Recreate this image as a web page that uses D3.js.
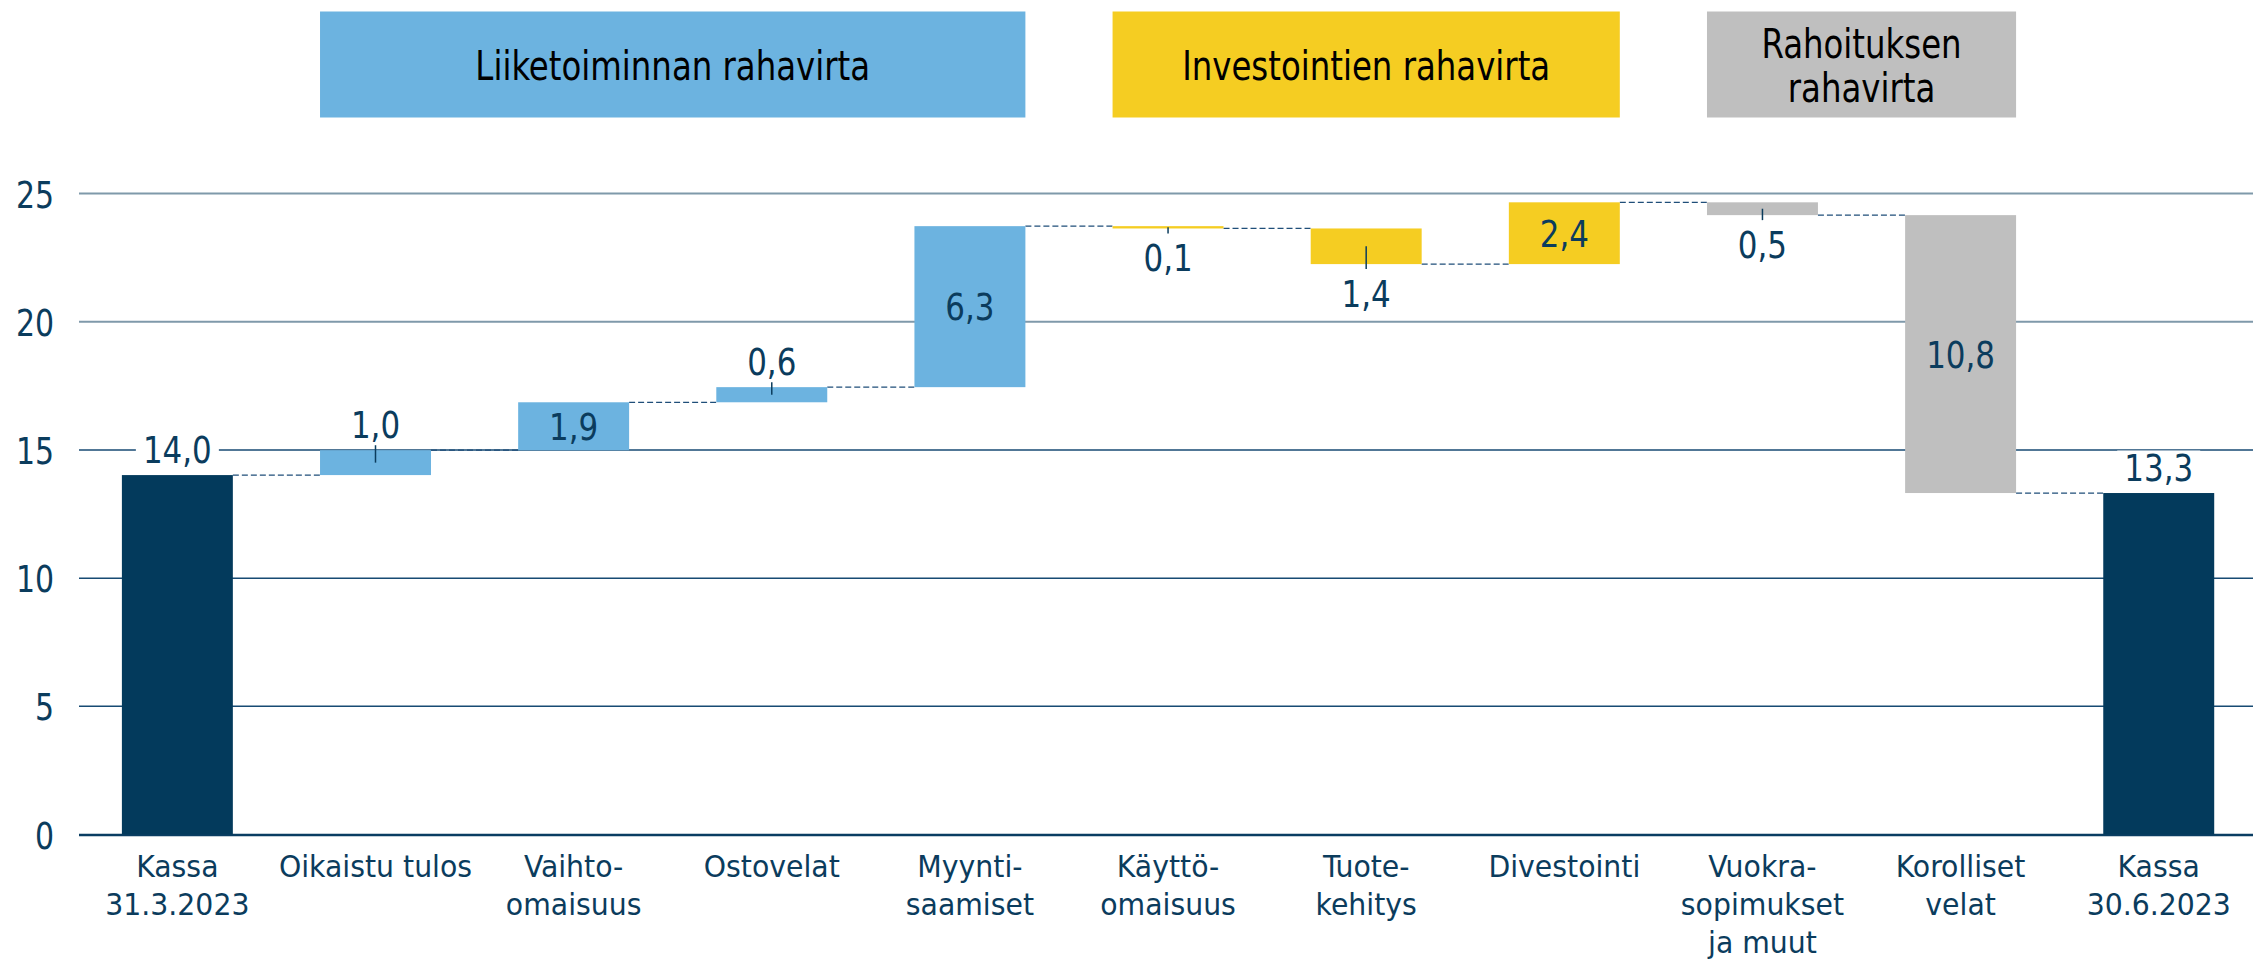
<!DOCTYPE html>
<html>
<head>
<meta charset="utf-8">
<script src="https://cdn.jsdelivr.net/npm/d3@7"></script>
<style>
  html, body { margin: 0; padding: 0; background: #fff; }
  svg { display: block; }
  text { font-family: "DejaVu Sans Condensed", "DejaVu Sans", sans-serif; }
</style>
</head>
<body>
<svg id="chart" width="2253" height="959"></svg>
<script>
// ---- data ----
const categories = [
  ["Kassa", "31.3.2023"],
  ["Oikaistu tulos"],
  ["Vaihto-", "omaisuus"],
  ["Ostovelat"],
  ["Myynti-", "saamiset"],
  ["Käyttö-", "omaisuus"],
  ["Tuote-", "kehitys"],
  ["Divestointi"],
  ["Vuokra-", "sopimukset", "ja muut"],
  ["Korolliset", "velat"],
  ["Kassa", "30.6.2023"]
];
// start balance, changes, end balance
const startValue = 14.02;
const changes = [0.97, 1.87, 0.59, 6.28, -0.09, -1.39, 2.41, -0.5, -10.84];
const endValue = 13.32;
// group of each bar: 0 total, 1 operating, 2 investing, 3 financing
const groups = [0, 1, 1, 1, 1, 2, 2, 2, 3, 3, 0];
const groupTitles = [
  { title: ["Liiketoiminnan rahavirta"], from: 1, to: 4, group: 1 },
  { title: ["Investointien rahavirta"], from: 5, to: 7, group: 2 },
  { title: ["Rahoituksen", "rahavirta"], from: 8, to: 9, group: 3 }
];
const yTicks = [0, 5, 10, 15, 20, 25];

// ---- styles ----
const colors = { 0: "#033A5C", 1: "#6CB3E0", 2: "#F5CD22", 3: "#BFBFBF" };
const textColor = "#0B3C5D";

// ---- build waterfall ----
const bars = [];
bars.push({ i: 0, y0: 0, y1: startValue, v: startValue, total: true });
let cum = startValue;
changes.forEach((d, k) => {
  bars.push({ i: k + 1, y0: cum, y1: cum + d, v: d, total: false });
  cum += d;
});
bars.push({ i: 10, y0: 0, y1: endValue, v: endValue, total: true });

const svg = d3.select("#chart");
const x = d3.scaleBand().domain(d3.range(categories.length))
  .range([78.3, 2257.8]).paddingInner(0.44).paddingOuter(0.22);
const y = d3.scaleLinear().domain([0, 25]).range([834.5, 193.6]);

function sText(sel, size, anchor) {
  return sel.attr("font-size", size).attr("text-anchor", anchor || "middle");
}
function place(px, py, sx) { return `translate(${px},${py}) scale(${sx},1)`; }

// gridlines
svg.append("g").selectAll("line").data(yTicks.filter(t => t > 0)).join("line")
  .attr("x1", 79).attr("x2", 2253)
  .attr("y1", d => y(d)).attr("y2", d => y(d))
  .attr("stroke", d => d >= 20 ? "#7F99AA" : "#174A73")
  .attr("stroke-width", d => d >= 20 ? 2 : 1.5);

// y tick labels
svg.append("g").selectAll("text").data(yTicks).join("text")
  .call(sText, 37, "end")
  .attr("fill", textColor)
  .attr("transform", d => place(54, y(d) + 14, 0.9))
  .text(d => d);

// zero axis
svg.append("line").attr("x1", 79).attr("x2", 2253)
  .attr("y1", y(0) + 0.5).attr("y2", y(0) + 0.5)
  .attr("stroke", "#0A3D62").attr("stroke-width", 2.5);

// connectors
const conn = [];
for (let k = 0; k < bars.length - 1; k++) {
  conn.push({ x1: x(k) + x.bandwidth(), x2: x(k + 1), v: bars[k].y1 });
}
svg.append("g").selectAll("line").data(conn).join("line")
  .attr("x1", d => d.x1).attr("x2", d => d.x2)
  .attr("y1", d => y(d.v)).attr("y2", d => y(d.v))
  .attr("stroke", "#1F4E79").attr("stroke-width", 1.3)
  .attr("stroke-dasharray", "6,3");

// bars
svg.append("g").selectAll("rect").data(bars).join("rect")
  .attr("x", d => x(d.i)).attr("width", x.bandwidth())
  .attr("y", d => y(Math.max(d.y0, d.y1)))
  .attr("height", d => Math.abs(y(d.y0) - y(d.y1)))
  .attr("fill", d => colors[groups[d.i]]);

// value labels
const fmt = v => d3.format(".1f")(Math.abs(v)).replace(".", ",");
const lab = svg.append("g");
bars.forEach(d => {
  const cx = x(d.i) + x.bandwidth() / 2;
  const top = y(Math.max(d.y0, d.y1)), bot = y(Math.min(d.y0, d.y1));
  let ty, pos;
  if (d.total) { pos = "above"; ty = top - 12.5; }
  else if (Math.abs(d.v) >= 1.6) { pos = "in"; ty = (top + bot) / 2 + 13.5; }
  else if (d.v > 0) { pos = "above"; ty = top - 12.5; }
  else { pos = "below"; ty = bot + 43; }
  if (d.total) {
    lab.append("rect").attr("x", cx - 41.5).attr("y", ty - 30)
      .attr("width", 83).attr("height", 36).attr("fill", "#fff");
  }
  if (!d.total && pos !== "in") {
    const mid = (top + bot) / 2;
    const end = pos === "above" ? top - 5 : bot + 5;
    lab.append("line").attr("x1", cx).attr("x2", cx)
      .attr("y1", mid).attr("y2", end)
      .attr("stroke", textColor).attr("stroke-width", 1.5);
  }
  lab.append("text").call(sText, 37).attr("fill", textColor)
    .attr("transform", place(cx, ty, 0.93)).text(fmt(d.v));
});

// x labels
const xl = svg.append("g");
categories.forEach((lines, i) => {
  const cx = x(i) + x.bandwidth() / 2;
  lines.forEach((ln, j) => {
    xl.append("text").call(sText, 30).attr("fill", textColor)
      .attr("transform", place(cx, 877 + j * 38, 1.05)).text(ln);
  });
});

// group header boxes
const hg = svg.append("g");
groupTitles.forEach(g => {
  const x0 = x(g.from), x1 = x(g.to) + x.bandwidth();
  hg.append("rect").attr("x", x0).attr("y", 11.5)
    .attr("width", x1 - x0).attr("height", 106)
    .attr("fill", colors[g.group]);
  const cx = (x0 + x1) / 2;
  const n = g.title.length;
  g.title.forEach((t, j) => {
    const by = n === 1 ? 79.5 : 57.5 + j * 44;
    hg.append("text").call(sText, 40).attr("fill", "#000")
      .attr("transform", place(cx, by, 0.9)).text(t);
  });
});
</script>
</body>
</html>
